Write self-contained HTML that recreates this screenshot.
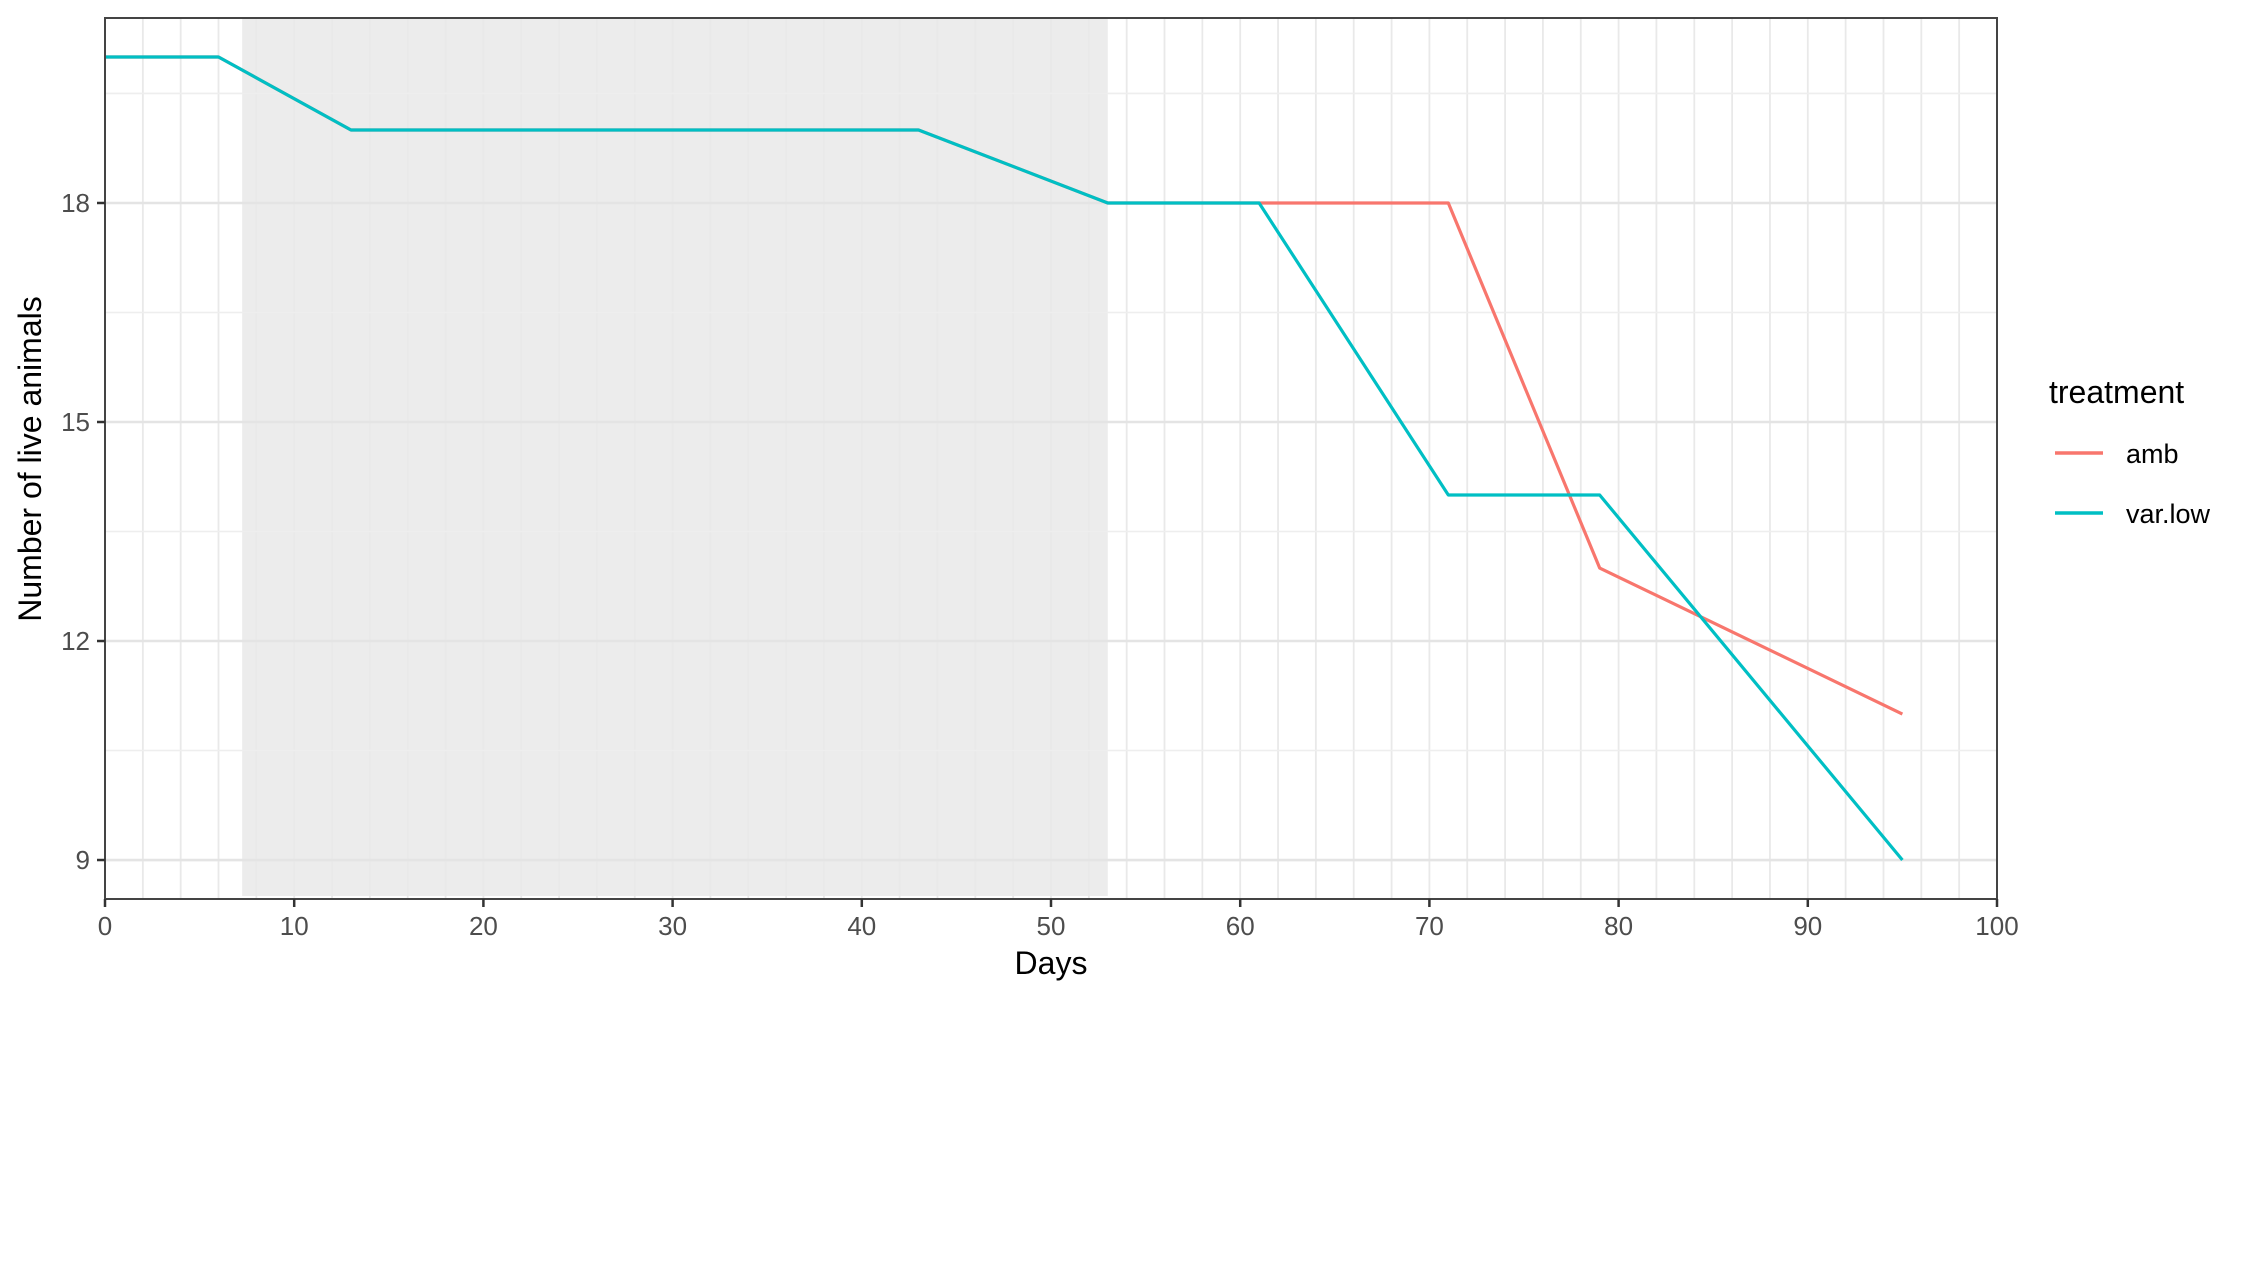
<!DOCTYPE html>
<html><head><meta charset="utf-8"><style>
html,body{margin:0;padding:0;background:#fff;}
svg{display:block;font-family:"Liberation Sans",sans-serif;}
</style></head><body>
<svg id="chart" width="2249" height="1265" xmlns="http://www.w3.org/2000/svg"></svg>
<script>
const xTicks=[0,10,20,30,40,50,60,70,80,90,100];
const yTicks=[9,12,15,18];
const yMinor=[10.5,13.5,16.5,19.5];
const shadeRange=[7.25,53];
const seriesNames=["amb","var.low"];
const ambDays=[0,6,13,43,53,71,79,95];
const ambValues=[20,20,19,19,18,18,13,11];
const varDays=[0,6,13,43,53,61,71,79,95];
const varValues=[20,20,19,19,18,18,14,14,9];
const colors=["#F8766D","#00BFC4"];

const L=105,R=1997,T=18,B=899;
const xMin=0,xMax=100,yMin=8.466,yMax=20.534;
const sx=d=>L+(d-xMin)/(xMax-xMin)*(R-L);
const sy=v=>B-(v-yMin)/(yMax-yMin)*(B-T);
const svg=document.getElementById('chart');
const NS="http://www.w3.org/2000/svg";
function mk(tag,attrs,parent){const e=document.createElementNS(NS,tag);for(const k in attrs)e.setAttribute(k,attrs[k]);(parent||svg).appendChild(e);return e;}

const bg=mk('rect',{x:L,y:T,width:R-L,height:B-T,fill:'#fff'});


const shade=mk('rect',{x:sx(shadeRange[0]),y:T,width:sx(shadeRange[1])-sx(shadeRange[0]),height:B-T-3,fill:'#ECECEC'});



for(let d=2;d<100;d+=2){
  const g=mk('line',{x1:sx(d),x2:sx(d),y1:T,y2:B,stroke:'#E9E9E9','stroke-width':1.8});
  
  
}
yMinor.forEach(v=>{const g=mk('line',{x1:L,x2:R,y1:sy(v),y2:sy(v),stroke:'#EEEEEE','stroke-width':1.6});
  
  });
yTicks.forEach(v=>{const g=mk('line',{x1:L,x2:R,y1:sy(v),y2:sy(v),stroke:'#E4E4E4','stroke-width':2.6});
  
  });

function drawLine(days,vals,color,name){
  const pts=days.map((d,i)=>sx(d)+','+sy(vals[i])).join(' ');
  const p=mk('polyline',{points:pts,fill:'none',stroke:color,'stroke-width':3.2,'stroke-linejoin':'round'});
  
  
}
drawLine(ambDays,ambValues,colors[0],'series-amb');
drawLine(varDays,varValues,colors[1],'series-var-low');

const border=mk('rect',{x:L,y:T,width:R-L,height:B-T,fill:'none',stroke:'#444','stroke-width':2});



xTicks.forEach(d=>{
  const t=mk('line',{x1:sx(d),x2:sx(d),y1:B,y2:B+8,stroke:'#333','stroke-width':2.5});
  
  
  const lb=mk('text',{x:sx(d),y:B+36,'text-anchor':'middle','font-size':26,fill:'#4D4D4D'});
  lb.textContent=d;
  
  
});
yTicks.forEach(v=>{
  const t=mk('line',{x1:L-8,x2:L,y1:sy(v),y2:sy(v),stroke:'#333','stroke-width':2.5});
  
  
  const lb=mk('text',{x:L-15,y:sy(v)+9,'text-anchor':'end','font-size':26,fill:'#4D4D4D'});
  lb.textContent=v;
  
  
});

const xt=mk('text',{x:(L+R)/2,y:974,'text-anchor':'middle','font-size':32,fill:'#000'});
xt.textContent='Days';


const yt=mk('text',{x:0,y:0,'text-anchor':'middle','font-size':32,fill:'#000',transform:'translate(41,459) rotate(-90)'});
yt.textContent='Number of live animals';



const lt=mk('text',{x:2049,y:403,'font-size':32,fill:'#000'});
lt.textContent='treatment';


seriesNames.forEach((n,i)=>{
  const yy=453+i*60;
  const k=mk('line',{x1:2055,x2:2103,y1:yy,y2:yy,stroke:colors[i],'stroke-width':3.5});
  
  
  const tx=mk('text',{x:2126,y:yy+10,'font-size':27,fill:'#000'});
  tx.textContent=n;
  
  
});
</script>
</body></html>
